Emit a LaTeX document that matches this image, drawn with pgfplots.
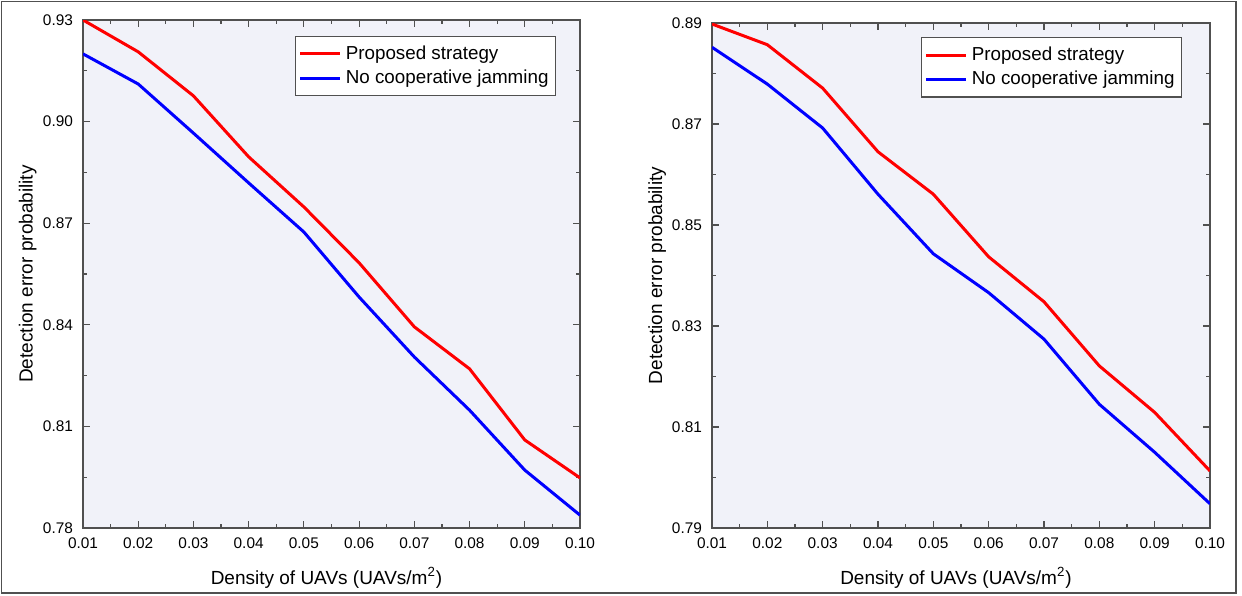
\documentclass[border=0pt]{standalone}
\usepackage{fontspec}
\setmainfont{Liberation Sans}
\usepackage{pgfplots}
\pgfplotsset{compat=1.18}
\definecolor{bgc}{RGB}{241,242,249}
\definecolor{axc}{RGB}{80,80,80}

\pgfplotsset{
  uavstyle/.style={
    scale only axis,
    anchor=south west,
    axis background/.style={fill=bgc},
    axis line style={axc, line width=0.7pt},
    tick style={axc, line width=0.6pt},
    major tick length=3.5pt, minor tick length=2pt,
    tick align=inside,
    xmin=0.01, xmax=0.10,
    xtick={0.01,0.02,0.03,0.04,0.05,0.06,0.07,0.08,0.09,0.10},
    minor x tick num=1, minor y tick num=1,
    scaled x ticks=false, scaled y ticks=false,
    xticklabel style={/pgf/number format/.cd, fixed, fixed zerofill, precision=2},
    yticklabel style={/pgf/number format/.cd, fixed, fixed zerofill, precision=2},
    /pgf/number format/assume math mode=true,
    tick label style={font=\fontsize{7.7}{9}\selectfont},
    xtick distance/.style={}, 
    xticklabel shift=1.5pt, yticklabel shift=1.5pt,
    label style={font=\fontsize{9.5}{11}\selectfont},
    xlabel={Density of UAVs (UAVs/m\textsuperscript{2})},
    ylabel={Detection error probability},
    ylabel style={anchor=center},
    xlabel style={anchor=center},
    legend cell align=left,
    legend image code/.code={\draw[#1] (0pt,0pt) -- (20pt,0pt);},
    legend style={draw=axc, fill=white, line width=0.6pt,
      font=\fontsize{9.4}{11.5}\selectfont, inner xsep=1.5pt, inner ysep=2.5pt,
      anchor=north east},
  }
}

\begin{document}
\begin{tikzpicture}
\path[use as bounding box] (0,0) rectangle (621pt,-297.5pt);

\begin{axis}[uavstyle,
  at={(41.5pt,-264pt)}, width=248.5pt, height=254pt,
  ymin=0.78, ymax=0.93,
  ytick={0.78,0.81,0.84,0.87,0.90,0.93},
  ylabel style={at={(axis description cs:-0.111,0.5)}},
  xlabel style={at={(axis description cs:0.49,-0.098)}},
  legend style={at={(axis description cs:0.952,0.9685)}},
]
\addplot[red, line width=1.5pt] coordinates {
(0.01,0.930) (0.02,0.9206) (0.03,0.9076) (0.04,0.8896) (0.05,0.8748)
(0.06,0.8583) (0.07,0.8394) (0.08,0.8270) (0.09,0.8060) (0.10,0.7948)};
\addlegendentry{Proposed strategy}
\addplot[blue, line width=1.5pt] coordinates {
(0.01,0.920) (0.02,0.9111) (0.03,0.8966) (0.04,0.8819) (0.05,0.8674)
(0.06,0.8482) (0.07,0.8305) (0.08,0.8148) (0.09,0.7971) (0.10,0.7838)};
\addlegendentry{No cooperative jamming}
\end{axis}

\begin{axis}[uavstyle,
  at={(356pt,-264pt)}, width=249pt, height=252.5pt,
  ymin=0.79, ymax=0.89,
  ytick={0.79,0.81,0.83,0.85,0.87,0.89},
  ylabel style={at={(axis description cs:-0.110,0.5)}},
  xlabel style={at={(axis description cs:0.49,-0.099)}},
  legend style={at={(axis description cs:0.944,0.972)}},
]
\addplot[red, line width=1.5pt] coordinates {
(0.01,0.8898) (0.02,0.8857) (0.03,0.8771) (0.04,0.8645) (0.05,0.8561)
(0.06,0.8437) (0.07,0.8348) (0.08,0.8221) (0.09,0.8129) (0.10,0.8013)};
\addlegendentry{Proposed strategy}
\addplot[blue, line width=1.5pt] coordinates {
(0.01,0.8852) (0.02,0.8779) (0.03,0.8692) (0.04,0.8561) (0.05,0.8443)
(0.06,0.8366) (0.07,0.8274) (0.08,0.8145) (0.09,0.8050) (0.10,0.7948)};
\addlegendentry{No cooperative jamming}
\end{axis}

\draw[axc, line width=0.7pt] (0.8pt,-0.8pt) rectangle (618pt,-296.5pt);
\end{tikzpicture}
\end{document}
